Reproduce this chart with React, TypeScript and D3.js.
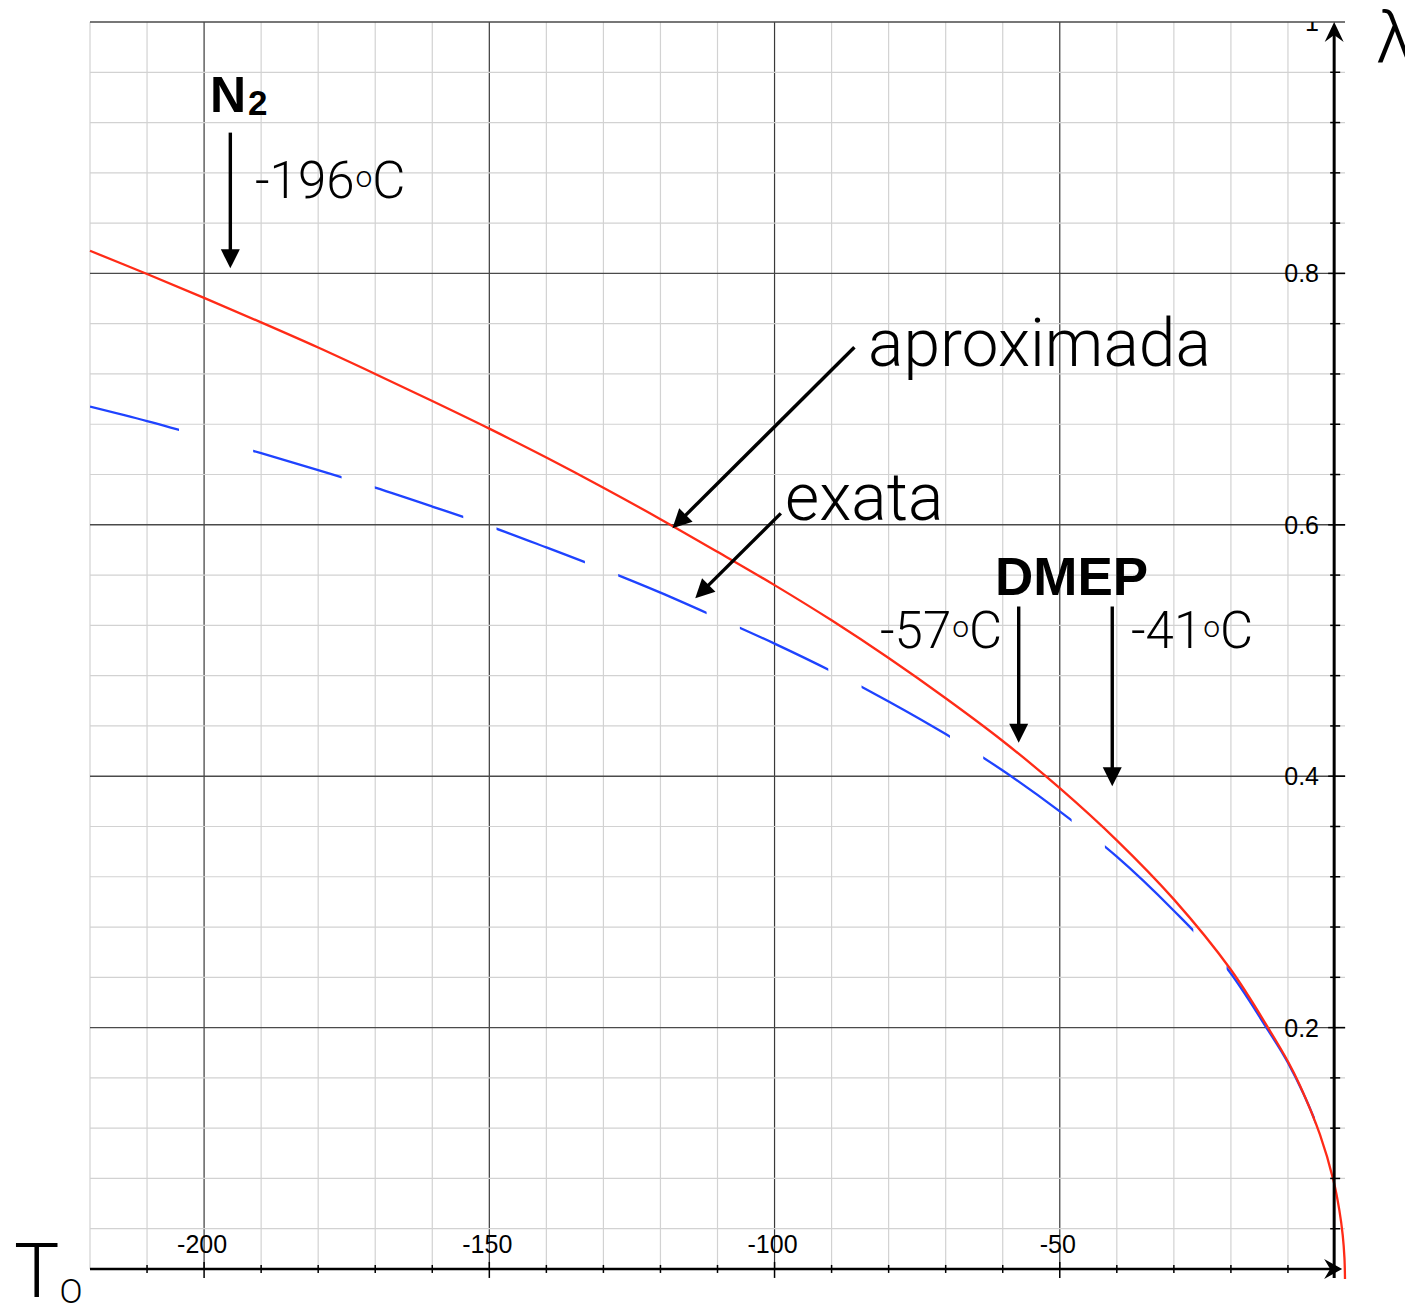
import React from 'react';
import * as d3 from 'd3';

// ---- data ----
const aproxT = [-220, -210, -200, -190, -180, -170, -160, -150, -140, -130, -120, -110, -100, -90, -80, -70, -60, -50, -40, -30, -20, -13.5, -10, -7.9, -4.4, -2, -1, -0.4, -0.1, 0];
const aproxL = [0.818, 0.7995, 0.7805, 0.761, 0.741, 0.72, 0.6985, 0.6765, 0.6535, 0.6295, 0.6045, 0.5785, 0.552, 0.524, 0.494, 0.462, 0.428, 0.3905, 0.349, 0.302, 0.246, 0.2, 0.173, 0.154, 0.115, 0.078, 0.055, 0.035, 0.017, 0];

const exataT = [-220, -210, -200, -190, -180, -170, -160, -150, -140, -130, -120, -110, -100, -90, -80, -70, -60, -50, -40, -30, -21, -13.5, -10, -5, -2, -1, -0.4, 0];
const exataL = [0.694, 0.6825, 0.67, 0.657, 0.6435, 0.6295, 0.6145, 0.599, 0.582, 0.5645, 0.546, 0.526, 0.5055, 0.4835, 0.4595, 0.4335, 0.4045, 0.372, 0.336, 0.293, 0.249, 0.198, 0.172, 0.123, 0.078, 0.055, 0.034, 0];

const xTickLabels = [-200, -150, -100, -50];
const yTickLabels = [0.2, 0.4, 0.6, 0.8, 1];

// annotation arrows (data units)
const vArrowT = [-195.4, -57.2, -40.8];
const vArrowFrom = [0.912, 0.535, 0.535];
const vArrowTo = [0.804, 0.4267, 0.392];
const diagFromT = [-86.0, -98.9];
const diagFromL = [0.7412, 0.6091];
const diagToT = [-117.9, -113.9];
const diagToL = [0.5972, 0.5415];

// ---- layout ----
const W = 1405;
const H = 1305;
const x = d3.scaleLinear().domain([-220, 0]).range([90, 1345]);
const y = d3.scaleLinear().domain([0, 1]).range([1279, 22]);
const AXIS_L = 0.008; // where the horizontal axis is drawn
const AXIS_T = -1.9; // where the vertical axis is drawn

const RED = '#ff2b17';
const BLUE = '#1f43ff';
const LIGHT = "Roboto, 'Open Sans', sans-serif";
const SANS = "'Liberation Sans', Arial, sans-serif";

// dash pattern of the "exata" curve (periodic in temperature)
const dashIntervals: [number, number][] = (() => {
  const out: [number, number][] = [[-220, -204.4]];
  for (let s = -191.4; s < 0; s += 21.33) out.push([s, Math.min(s + 15.5, 0)]);
  return out;
})();

function Arrow({ x0, y0, x1, y1, head = 19, width = 19, sw = 3.4 }: any) {
  const dx = x1 - x0;
  const dy = y1 - y0;
  const len = Math.hypot(dx, dy);
  const ux = dx / len;
  const uy = dy / len;
  const bx = x1 - ux * head;
  const by = y1 - uy * head;
  const px = -uy * (width / 2);
  const py = ux * (width / 2);
  return (
    <g>
      <line x1={x0} y1={y0} x2={bx + ux * 2} y2={by + uy * 2} stroke="#000" strokeWidth={sw} />
      <polygon points={`${x1},${y1} ${bx + px},${by + py} ${bx - px},${by - py}`} fill="#000" />
    </g>
  );
}

function TempLabel({ x: tx, y: ty, value }: any) {
  return (
    <text x={tx} y={ty} fontFamily={LIGHT} fontWeight={300} fontSize={51} fill="#000">
      {value}
      <tspan fontSize={30} dy={-11} dx={1}>o</tspan>
      <tspan fontSize={51} dy={11}>C</tspan>
    </text>
  );
}

export default function App() {
  const gen = d3
    .line<[number, number]>()
    .x((d) => x(d[0]))
    .y((d) => y(d[1]))
    .curve(d3.curveCatmullRom.alpha(0.5));

  const redPath = gen(aproxT.map((t, i) => [t, aproxL[i]]) as [number, number][]);
  const bluePath = gen(exataT.map((t, i) => [t, exataL[i]]) as [number, number][]);

  const vGrid = d3.range(-220, 0, 10);
  const hGrid = d3.range(1, 26).map((k) => k * 0.04);
  const xTicks = d3.range(-210, 0, 10);
  const yTicks = d3.range(1, 25).map((k) => k * 0.04);

  const ax = x(AXIS_T);
  const ay = y(AXIS_L);

  return (
    <svg width={W} height={H} style={{ position: 'absolute', left: 0, top: 0, background: '#fff' }}>
      <defs>
        <clipPath id="dashes">
          {dashIntervals.map(([a, b], i) => (
            <rect key={i} x={x(a)} y={0} width={x(b) - x(a)} height={H} />
          ))}
        </clipPath>
        <clipPath id="plot">
          <rect x={0} y={y(1)} width={W} height={H} />
        </clipPath>
      </defs>
      <rect x={0} y={0} width={W} height={H} fill="#fff" />

      {/* grid */}
      {vGrid.map((t) => (
        <line
          key={'v' + t}
          x1={x(t)}
          x2={x(t)}
          y1={ay}
          y2={y(1)}
          stroke={t % 50 === 0 ? '#3a3a3a' : '#d2d2d2'}
          strokeWidth={1.2}
        />
      ))}
      {hGrid.map((l, k) => (
        <line
          key={'h' + k}
          x1={x(-220)}
          x2={x(0)}
          y1={y(l)}
          y2={y(l)}
          stroke={(k + 1) % 5 === 0 ? '#4a4a4a' : '#d2d2d2'}
          strokeWidth={(k + 1) % 5 === 0 ? 1.4 : 1.2}
        />
      ))}

      {/* curves */}
      <path d={bluePath || ''} fill="none" stroke={BLUE} strokeWidth={2.3} clipPath="url(#dashes)" />
      <path d={redPath || ''} fill="none" stroke={RED} strokeWidth={2.3} />

      {/* axes */}
      <line x1={x(-220)} x2={1332} y1={ay} y2={ay} stroke="#000" strokeWidth={2.6} />
      <line x1={ax} x2={ax} y1={1278} y2={y(1) + 6} stroke="#000" strokeWidth={3} />
      {xTicks.map((t) => {
        const major = t % 50 === 0;
        return (
          <line key={'xt' + t} x1={x(t)} x2={x(t)} y1={major ? ay - 7 : ay - 4} y2={major ? ay + 9 : ay + 4} stroke="#000" strokeWidth={1.5} />
        );
      })}
      {yTicks.map((l, k) => {
        const major = (k + 1) % 5 === 0;
        return (
          <line key={'yt' + k} x1={major ? ax - 6 : ax - 4} x2={major ? ax + 11 : ax + 6} y1={y(l)} y2={y(l)} stroke="#000" strokeWidth={1.5} />
        );
      })}
      {/* axis arrowheads */}
      <polygon
        points={`${ax},${y(1)} ${ax + 9.5},${y(1) + 20} ${ax},${y(1) + 13} ${ax - 9.5},${y(1) + 20}`}
        fill="#000"
      />
      <polygon
        points={`${ax + 8},${ay} ${ax - 10},${ay + 10} ${ax - 4},${ay} ${ax - 10},${ay - 10}`}
        fill="#000"
      />

      {/* tick labels */}
      {xTickLabels.map((t) => (
        <text key={'xl' + t} x={x(t) - 2} y={1253} textAnchor="middle" fontFamily={SANS} fontSize={25} fill="#000">
          {t}
        </text>
      ))}
      <g clipPath="url(#plot)">
        {yTickLabels.map((l) => (
          <text key={'yl' + l} x={1319} y={y(l) + 9} textAnchor="end" fontFamily={SANS} fontSize={25} fill="#000">
            {String(l)}
          </text>
        ))}
      </g>

      {/* axis titles */}
      <text x={1376} y={62} fontFamily={LIGHT} fontWeight={300} fontSize={73} fill="#000">λ</text>
      <text x={14} y={1297} fontFamily={LIGHT} fontWeight={300} fontSize={76} fill="#000">
        T<tspan fontSize={34} dy={6}>O</tspan>
      </text>

      {/* annotations */}
      <text x={210} y={112} fontFamily={SANS} fontWeight={700} fontSize={50} fill="#000">
        N<tspan fontSize={35} dy={3} dx={2}>2</tspan>
      </text>
      <TempLabel x={255} y={198} value="-196" />
      <text x={995} y={595} fontFamily={SANS} fontWeight={700} fontSize={53} fill="#000">DMEP</text>
      <TempLabel x={880} y={648} value="-57" />
      <TempLabel x={1131} y={648} value="-41" />
      <text x={868} y={366} fontFamily={LIGHT} fontWeight={300} fontSize={66} fill="#000">aproximada</text>
      <text x={785} y={520} fontFamily={LIGHT} fontWeight={300} fontSize={66} fill="#000">exata</text>

      {vArrowT.map((t, i) => (
        <Arrow key={'va' + i} x0={x(t)} y0={y(vArrowFrom[i])} x1={x(t)} y1={y(vArrowTo[i])} />
      ))}
      {diagFromT.map((t, i) => (
        <Arrow key={'da' + i} x0={x(t)} y0={y(diagFromL[i])} x1={x(diagToT[i])} y1={y(diagToL[i])} />
      ))}
    </svg>
  );
}
